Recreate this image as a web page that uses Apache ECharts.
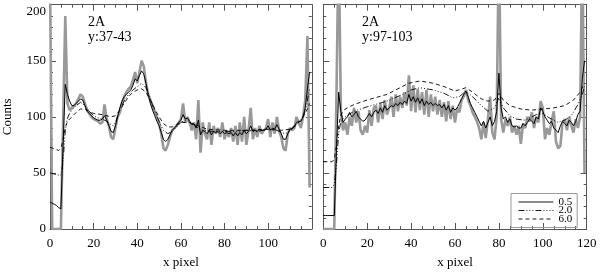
<!DOCTYPE html>
<html><head><meta charset="utf-8">
<script src="https://cdn.jsdelivr.net/npm/echarts@6/dist/echarts.min.js"></script>
<style>html,body{margin:0;padding:0;background:#fff}#c{width:600px;height:274px}</style>
</head><body><div id="c"></div>
<script>
// ---------- data ----------
const xTicks = [0, 20, 40, 60, 80, 100, 120];
const legendNames = ['0.5', '2.0', '6.0'];
const panelLabels = [['2A', 'y:37-43'], ['2A', 'y:97-103']];

// Left panel (y:37-43), x = 0..119
const leftRaw = [230,0,0,0,0,0,95,190,112,106,108,110,112,116,120,118,112,106,103,100,
 98,97,96,94,95,111,98,92,82,80,90,100,104,112,118,122,125,127,133,140,
 130,140,150,145,130,120,115,110,105,100,95,85,72,70,75,82,88,90,92,95,
 98,112,95,100,95,88,95,80,115,68,95,85,80,95,75,92,85,90,82,95,
 80,88,82,90,78,92,75,95,78,100,75,88,108,80,90,82,92,85,88,90,
 98,82,95,85,100,88,82,72,70,85,90,88,90,100,95,90,100,115,172,37];
const leftS05 = [24,23,22,21,19,18,75,129,120,114,110,110,112,114,116,115,110,105,103,101,
 99,98,97,97,98,101,97,92,87,86,92,100,108,114,118,120,122,124,128,134,
 132,137,141,138,130,120,112,106,101,96,92,86,80,78,80,84,88,90,92,95,
 97,102,98,99,96,93,94,90,97,84,88,87,85,88,84,87,86,87,85,87,
 85,86,85,86,83,86,83,86,84,88,85,87,92,87,88,87,89,88,88,89,
 92,88,90,89,93,89,85,80,80,85,89,90,91,95,96,96,100,108,125,140];
const leftS20x = [0,4,5,6,7,8,9,10,12,14,16,18,20,22,24,26,28,29,30,32,34,36,38,40,42,44,46,48,50,52,54,56,58,60,62,64,66,68,70,75,80,85,90,95,100,104,106,108,110,112,114,116,117,118,119];
const leftS20 = [50,48,48,60,88,99,103,106,110,113,110,105,101,99,98,96,93,92,95,106,114,120,124,127,130,126,116,105,96,88,85,87,91,95,97,95,93,90,88,87,87,87,88,87,89,88,86,85,88,91,95,100,105,115,125];
const leftS60x = [0,4,5,6,7,8,10,12,14,16,18,20,24,28,30,32,34,36,38,40,42,44,46,48,50,52,54,56,58,60,64,68,72,80,90,100,106,110,114,116,118,119];
const leftS60 = [73,70,72,80,90,96,100,104,107,107,105,103,102,100,101,106,112,118,122,124,125,122,115,107,100,94,91,91,93,95,95,92,89,88,88,89,88,89,95,100,107,112];

// Right panel (y:97-103), x = 0..119
const rightRaw = [0,0,0,0,0,0,120,260,105,88,95,84,100,92,108,95,105,88,84,92,
 86,106,92,108,110,95,112,98,115,102,108,118,100,120,105,118,108,122,110,137,
 105,128,104,125,106,122,102,124,100,120,105,118,102,115,100,113,96,114,98,110,
 95,108,104,115,118,124,115,110,104,100,96,90,80,95,81,98,118,86,80,100,
 260,98,86,98,92,100,86,92,84,92,76,94,90,100,96,104,90,100,95,114,
 108,80,90,84,96,105,78,72,74,95,98,88,100,92,86,98,90,100,260,50];
const rightS05 = [12,12,12,12,12,12,70,122,105,95,98,100,104,100,102,105,100,98,96,97,
 100,103,100,104,106,103,108,104,110,106,108,110,109,112,110,113,111,114,112,120,
 114,118,113,117,112,116,110,114,111,113,110,112,110,111,108,111,106,110,104,108,
 106,108,112,116,120,123,118,112,108,104,100,96,92,96,90,95,100,92,96,105,
 139,108,98,100,95,98,92,91,92,90,90,94,92,95,98,96,94,100,98,108,
 105,100,97,94,96,90,88,86,92,96,94,92,97,95,92,96,102,105,134,150];
const rightS20x = [0,4,5,6,7,8,10,14,20,29,35,40,44,50,55,59,62,65,68,72,75,78,80,82,85,88,92,97,100,103,107,110,113,116,118,119];
const rightS20 = [37,37,40,58,85,96,100,105,109,114,119,124,126,124,121,117,118,123,118,110,105,108,117,108,101,98,97,102,103,99,95,97,101,111,120,127];
const rightS60x = [0,4,5,6,7,8,10,14,20,29,35,39,44,50,55,60,65,68,72,75,78,80,82,85,90,95,100,105,110,114,117,119];
const rightS60 = [60,60,62,75,92,102,107,111,115,120,126,130,132,130,127,123,126,122,116,114,115,121,115,110,107,106,107,108,110,115,122,130];

// ---------- helpers ----------
const idx = (vals) => vals.map((v, i) => [i, v]);
const zip = (xs, ys) => xs.map((x, i) => [x, ys[i]]);
const FONT = '"Liberation Serif", serif';
const AX = '#555';

function xAx(g, pos, labels, hideLast) {
  return {
    type: 'value', gridIndex: g, position: pos, min: 0, max: 120, interval: 20,
    minorTick: {show: true, splitNumber: 4, length: 3, lineStyle: {color: AX}},
    axisTick: {inside: true, length: 6, lineStyle: {color: AX}},
    axisLine: {onZero: false, lineStyle: {color: AX, width: 1}},
    splitLine: {show: false},
    axisLabel: labels ? {
      show: true, margin: 8, color: '#000', fontFamily: FONT, fontSize: 13,
      formatter: v => (hideLast && v === 120) ? '' : String(v)
    } : {show: false},
    name: labels ? 'x pixel' : '', nameLocation: 'middle', nameGap: 27,
    nameTextStyle: {color: '#000', fontFamily: FONT, fontSize: 13}
  };
}
function yAx(g, pos, labels) {
  return {
    type: 'value', gridIndex: g, position: pos, min: 0, max: 200, interval: 50,
    minorTick: {show: true, splitNumber: 5, length: 3, lineStyle: {color: AX}},
    axisTick: {inside: true, length: 6, lineStyle: {color: AX}},
    axisLine: {show: true, onZero: false, lineStyle: {color: AX, width: 1}},
    splitLine: {show: false},
    axisLabel: labels ? {
      show: true, margin: 4, color: '#000', fontFamily: FONT, fontSize: 13,
      verticalAlignMaxLabel: 'top'
    } : {show: false},
    name: labels ? 'Counts' : '', nameLocation: 'middle', nameGap: 36, nameRotate: 90,
    nameTextStyle: {color: '#000', fontFamily: FONT, fontSize: 13}
  };
}
function panelSeries(p, raw, s05, s20x, s20, s60x, s60) {
  const xi = p * 2, yi = p * 2;
  const base = {type: 'line', xAxisIndex: xi, yAxisIndex: yi, symbol: 'none', showSymbol: false, clip: true, animation: false, itemStyle: {color: '#000'}};
  return [
    Object.assign({}, base, {name: 'raw', data: idx(raw), itemStyle: {color: '#999'}, lineStyle: {color: '#999', width: 2.6}, z: 1}),
    Object.assign({}, base, {name: legendNames[2], data: zip(s60x, s60), lineStyle: {color: '#000', width: 0.9, type: [4, 3]}, z: 2}),
    Object.assign({}, base, {name: legendNames[1], data: zip(s20x, s20), lineStyle: {color: '#000', width: 0.9, type: [6, 2, 1, 2, 1, 2, 1, 2]}, z: 3}),
    Object.assign({}, base, {name: legendNames[0], data: idx(s05), lineStyle: {color: '#000', width: 1}, z: 4})
  ];
}

const chart = echarts.init(document.getElementById('c'), null, {renderer: 'canvas'});
chart.setOption({
  animation: false,
  backgroundColor: '#fff',
  grid: [
    {left: 48.5, top: 4.7, width: 263.3, height: 230},
    {left: 323.3, top: 4.7, width: 263.4, height: 230}
  ],
  xAxis: [xAx(0, 'bottom', true, true), xAx(0, 'top', false), xAx(1, 'bottom', true, false), xAx(1, 'top', false)],
  yAxis: [yAx(0, 'left', true), yAx(0, 'right', false), yAx(1, 'left', false), yAx(1, 'right', false)],
  legend: {
    data: legendNames, orient: 'vertical', left: 511, top: 193.5,
    itemWidth: 35, itemHeight: 8, itemGap: -2.5, padding: [3, 5, 3, 7],
    borderColor: '#999', borderWidth: 1, borderRadius: 0,
    selectedMode: false,
    itemStyle: {opacity: 0},
    lineStyle: {width: 0.9, color: '#000'},
    textStyle: {color: '#000', fontFamily: FONT, fontSize: 11}
  },
  graphic: [
    {type: 'text', left: 88, top: 15, style: {text: panelLabels[0][0], font: '14px "Liberation Serif"', fill: '#000'}},
    {type: 'text', left: 88, top: 30, style: {text: panelLabels[0][1], font: '14px "Liberation Serif"', fill: '#000'}},
    {type: 'text', left: 362, top: 15, style: {text: panelLabels[1][0], font: '14px "Liberation Serif"', fill: '#000'}},
    {type: 'text', left: 362, top: 30, style: {text: panelLabels[1][1], font: '14px "Liberation Serif"', fill: '#000'}}
  ],
  series: [].concat(
    panelSeries(0, leftRaw, leftS05, leftS20x, leftS20, leftS60x, leftS60),
    panelSeries(1, rightRaw, rightS05, rightS20x, rightS20, rightS60x, rightS60)
  )
});
</script></body></html>
